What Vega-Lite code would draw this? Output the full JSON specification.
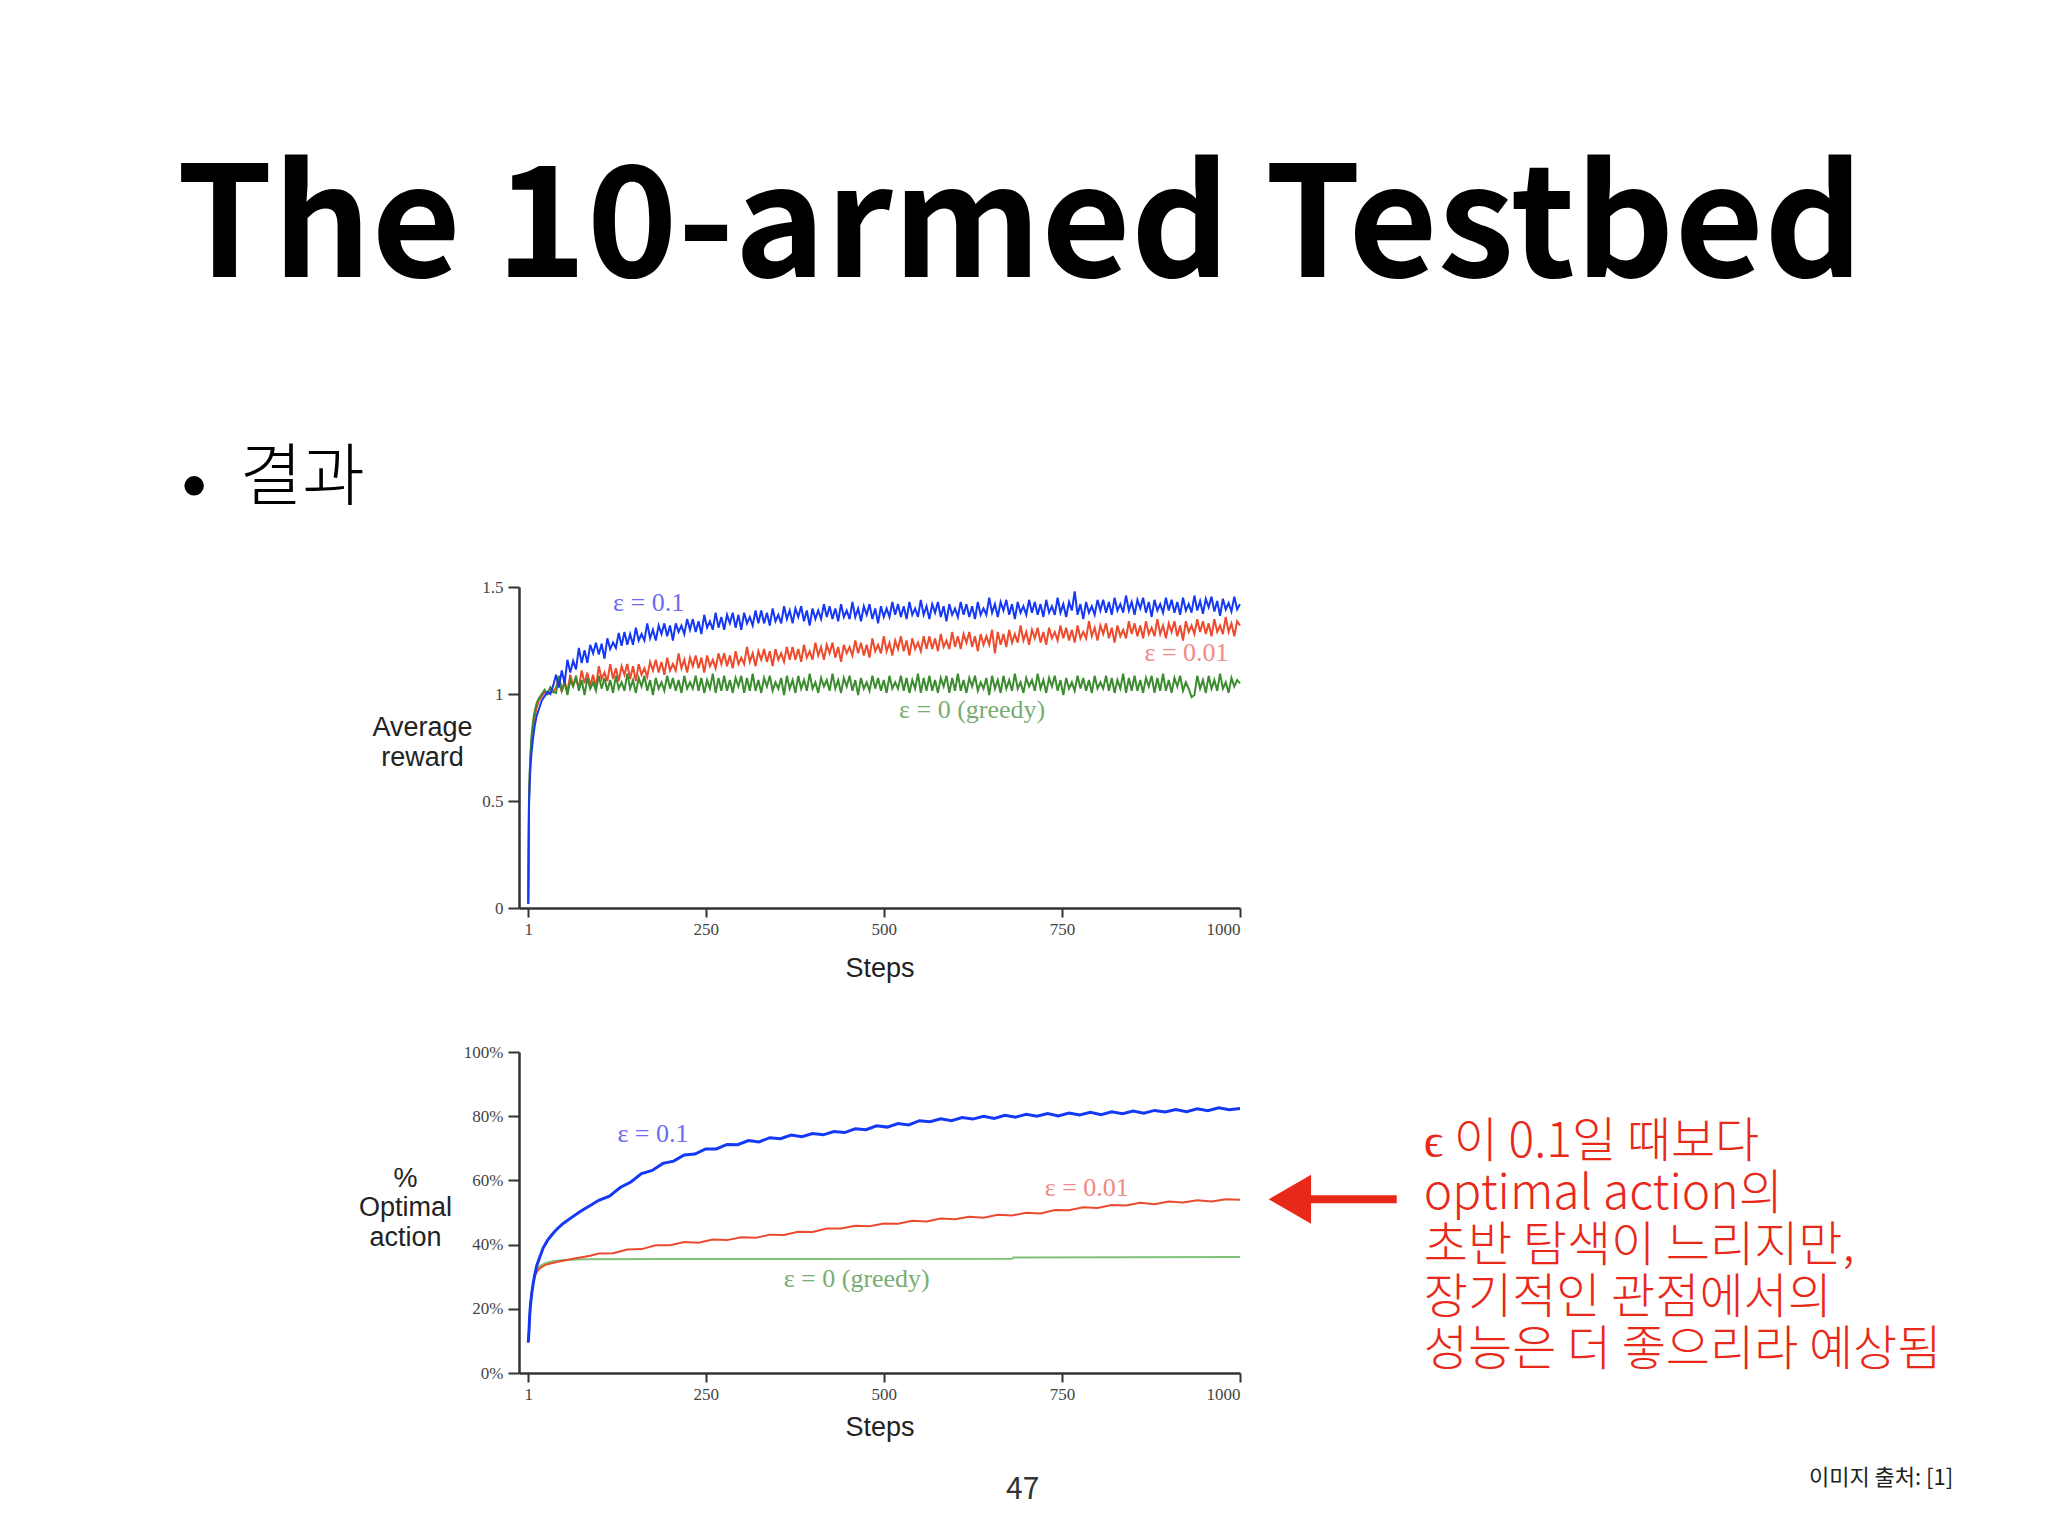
{
  "$schema": "https://vega.github.io/schema/vega-lite/v6.json",
  "autosize": "none",
  "padding": {"left": 519, "top": 587, "right": 1529, "bottom": 949},
  "background": "white",
  "bounds": "flush",
  "spacing": 144,
  "config": {
    "view": {"stroke": null},
    "axis": {
      "grid": false,
      "domainColor": "#333333",
      "domainWidth": 2.5,
      "tickColor": "#333333",
      "tickWidth": 2,
      "labelFont": "Liberation Serif",
      "labelFontSize": 17,
      "labelColor": "#444444",
      "titleFont": "Liberation Sans",
      "titleFontSize": 27,
      "titleFontWeight": "normal",
      "titleColor": "#222222"
    }
  },
  "datasets": {
    "topBlue": [
      {"step":1,"reward":0.02},{"step":2,"reward":0.47},{"step":3,"reward":0.58},{"step":4,"reward":0.65},{"step":5,"reward":0.70},{"step":6,"reward":0.74},{"step":8,"reward":0.80},{"step":10,"reward":0.85},{"step":13,"reward":0.90},{"step":16,"reward":0.93},{"step":20,"reward":0.97},{"step":24,"reward":0.99},{"step":28,"reward":1.01},{"step":32,"reward":1.00},{"step":36,"reward":1.04},
      {"step":40,"reward":1.09},{"step":44,"reward":1.03},{"step":48,"reward":1.11},{"step":52,"reward":1.05},{"step":56,"reward":1.16},{"step":60,"reward":1.10},{"step":64,"reward":1.155},{"step":68,"reward":1.115},{"step":72,"reward":1.215},{"step":76,"reward":1.145},{"step":80,"reward":1.205},{"step":84,"reward":1.145},{"step":88,"reward":1.23},{"step":92,"reward":1.19},{"step":96,"reward":1.24},{"step":100,"reward":1.185},{"step":104,"reward":1.235},{"step":108,"reward":1.165},{"step":112,"reward":1.26},{"step":116,"reward":1.21},{"step":120,"reward":1.24},{"step":124,"reward":1.215},{"step":128,"reward":1.285},{"step":132,"reward":1.225},
      {"step":136,"reward":1.29},{"step":140,"reward":1.23},{"step":144,"reward":1.28},{"step":148,"reward":1.23},{"step":152,"reward":1.31},{"step":156,"reward":1.25},{"step":160,"reward":1.28},{"step":164,"reward":1.25},{"step":168,"reward":1.33},{"step":172,"reward":1.26},{"step":176,"reward":1.30},{"step":180,"reward":1.25},{"step":184,"reward":1.32},{"step":188,"reward":1.28},{"step":192,"reward":1.33},{"step":196,"reward":1.27},{"step":200,"reward":1.32},{"step":204,"reward":1.25},{"step":208,"reward":1.33},{"step":212,"reward":1.29},{"step":216,"reward":1.32},{"step":220,"reward":1.28},{"step":224,"reward":1.35},{"step":228,"reward":1.30},
      {"step":232,"reward":1.35},{"step":236,"reward":1.29},{"step":240,"reward":1.34},{"step":244,"reward":1.28},{"step":248,"reward":1.37},{"step":252,"reward":1.31},{"step":256,"reward":1.34},{"step":260,"reward":1.30},{"step":264,"reward":1.38},{"step":268,"reward":1.31},{"step":272,"reward":1.36},{"step":276,"reward":1.30},{"step":280,"reward":1.37},{"step":284,"reward":1.33},{"step":288,"reward":1.38},{"step":292,"reward":1.31},{"step":296,"reward":1.37},{"step":300,"reward":1.30},{"step":304,"reward":1.38},{"step":308,"reward":1.33},{"step":312,"reward":1.36},{"step":316,"reward":1.32},{"step":320,"reward":1.39},{"step":324,"reward":1.33},
      {"step":328,"reward":1.39},{"step":332,"reward":1.33},{"step":336,"reward":1.38},{"step":340,"reward":1.32},{"step":344,"reward":1.40},{"step":348,"reward":1.34},{"step":352,"reward":1.37},{"step":356,"reward":1.33},{"step":360,"reward":1.41},{"step":364,"reward":1.35},{"step":368,"reward":1.39},{"step":372,"reward":1.33},{"step":376,"reward":1.40},{"step":380,"reward":1.36},{"step":384,"reward":1.41},{"step":388,"reward":1.34},{"step":392,"reward":1.39},{"step":396,"reward":1.32},{"step":400,"reward":1.40},{"step":404,"reward":1.35},{"step":408,"reward":1.39},{"step":412,"reward":1.35},{"step":416,"reward":1.42},{"step":420,"reward":1.36},
      {"step":424,"reward":1.41},{"step":428,"reward":1.35},{"step":432,"reward":1.40},{"step":436,"reward":1.34},{"step":440,"reward":1.42},{"step":444,"reward":1.36},{"step":448,"reward":1.39},{"step":452,"reward":1.35},{"step":456,"reward":1.43},{"step":460,"reward":1.36},{"step":464,"reward":1.40},{"step":468,"reward":1.34},{"step":472,"reward":1.41},{"step":476,"reward":1.37},{"step":480,"reward":1.42},{"step":484,"reward":1.35},{"step":488,"reward":1.40},{"step":492,"reward":1.33},{"step":496,"reward":1.41},{"step":500,"reward":1.36},{"step":504,"reward":1.40},{"step":508,"reward":1.36},{"step":512,"reward":1.43},{"step":516,"reward":1.37},
      {"step":520,"reward":1.42},{"step":524,"reward":1.36},{"step":528,"reward":1.41},{"step":532,"reward":1.35},{"step":536,"reward":1.43},{"step":540,"reward":1.37},{"step":544,"reward":1.40},{"step":548,"reward":1.36},{"step":552,"reward":1.44},{"step":556,"reward":1.37},{"step":560,"reward":1.41},{"step":564,"reward":1.35},{"step":568,"reward":1.42},{"step":572,"reward":1.38},{"step":576,"reward":1.43},{"step":580,"reward":1.36},{"step":584,"reward":1.41},{"step":588,"reward":1.34},{"step":592,"reward":1.42},{"step":596,"reward":1.37},{"step":600,"reward":1.40},{"step":604,"reward":1.36},{"step":608,"reward":1.43},{"step":612,"reward":1.37},
      {"step":616,"reward":1.42},{"step":620,"reward":1.36},{"step":624,"reward":1.41},{"step":628,"reward":1.35},{"step":632,"reward":1.43},{"step":636,"reward":1.37},{"step":640,"reward":1.40},{"step":644,"reward":1.37},{"step":648,"reward":1.45},{"step":652,"reward":1.38},{"step":656,"reward":1.42},{"step":660,"reward":1.36},{"step":664,"reward":1.43},{"step":668,"reward":1.39},{"step":672,"reward":1.44},{"step":676,"reward":1.37},{"step":680,"reward":1.42},{"step":684,"reward":1.35},{"step":688,"reward":1.43},{"step":692,"reward":1.38},{"step":696,"reward":1.41},{"step":700,"reward":1.37},{"step":704,"reward":1.44},{"step":708,"reward":1.38},
      {"step":712,"reward":1.43},{"step":716,"reward":1.37},{"step":720,"reward":1.42},{"step":724,"reward":1.36},{"step":728,"reward":1.44},{"step":732,"reward":1.38},{"step":736,"reward":1.41},{"step":740,"reward":1.37},{"step":744,"reward":1.45},{"step":748,"reward":1.38},{"step":752,"reward":1.42},{"step":756,"reward":1.36},{"step":760,"reward":1.43},{"step":764,"reward":1.39},{"step":768,"reward":1.48},{"step":772,"reward":1.37},{"step":776,"reward":1.42},{"step":780,"reward":1.35},{"step":784,"reward":1.43},{"step":788,"reward":1.38},{"step":792,"reward":1.41},{"step":796,"reward":1.37},{"step":800,"reward":1.44},{"step":804,"reward":1.39},
      {"step":808,"reward":1.44},{"step":812,"reward":1.38},{"step":816,"reward":1.43},{"step":820,"reward":1.37},{"step":824,"reward":1.45},{"step":828,"reward":1.39},{"step":832,"reward":1.42},{"step":836,"reward":1.38},{"step":840,"reward":1.46},{"step":844,"reward":1.39},{"step":848,"reward":1.43},{"step":852,"reward":1.37},{"step":856,"reward":1.44},{"step":860,"reward":1.40},{"step":864,"reward":1.45},{"step":868,"reward":1.38},{"step":872,"reward":1.43},{"step":876,"reward":1.36},{"step":880,"reward":1.44},{"step":884,"reward":1.39},{"step":888,"reward":1.42},{"step":892,"reward":1.38},{"step":896,"reward":1.45},{"step":900,"reward":1.39},
      {"step":904,"reward":1.44},{"step":908,"reward":1.38},{"step":912,"reward":1.43},{"step":916,"reward":1.37},{"step":920,"reward":1.45},{"step":924,"reward":1.39},{"step":928,"reward":1.42},{"step":932,"reward":1.38},{"step":936,"reward":1.46},{"step":940,"reward":1.39},{"step":944,"reward":1.435},{"step":948,"reward":1.375},{"step":952,"reward":1.445},{"step":956,"reward":1.405},{"step":960,"reward":1.455},{"step":964,"reward":1.385},{"step":968,"reward":1.435},{"step":972,"reward":1.365},{"step":976,"reward":1.445},{"step":980,"reward":1.395},{"step":984,"reward":1.425},{"step":988,"reward":1.385},{"step":992,"reward":1.455},{"step":996,"reward":1.395},{"step":1000,"reward":1.42}
    ],
    "topRed": [
      {"step":1,"reward":0.02},{"step":2,"reward":0.50},{"step":3,"reward":0.62},{"step":4,"reward":0.70},{"step":5,"reward":0.75},{"step":6,"reward":0.79},{"step":8,"reward":0.85},{"step":10,"reward":0.89},{"step":13,"reward":0.94},{"step":16,"reward":0.97},{"step":20,"reward":0.99},{"step":24,"reward":1.01},{"step":28,"reward":1.00},{"step":32,"reward":1.03},{"step":36,"reward":1.01},
      {"step":40,"reward":1.03},{"step":44,"reward":1.08},{"step":48,"reward":1.01},{"step":52,"reward":1.06},{"step":56,"reward":1.01},{"step":60,"reward":1.09},{"step":64,"reward":1.04},{"step":68,"reward":1.07},{"step":72,"reward":1.03},{"step":76,"reward":1.11},{"step":80,"reward":1.05},{"step":84,"reward":1.10},{"step":88,"reward":1.04},{"step":92,"reward":1.09},{"step":96,"reward":1.03},{"step":100,"reward":1.13},{"step":104,"reward":1.07},{"step":108,"reward":1.10},{"step":112,"reward":1.06},{"step":116,"reward":1.14},{"step":120,"reward":1.07},{"step":124,"reward":1.12},{"step":128,"reward":1.06},{"step":132,"reward":1.13},
      {"step":136,"reward":1.09},{"step":140,"reward":1.14},{"step":144,"reward":1.07},{"step":148,"reward":1.13},{"step":152,"reward":1.06},{"step":156,"reward":1.14},{"step":160,"reward":1.09},{"step":164,"reward":1.12},{"step":168,"reward":1.08},{"step":172,"reward":1.15},{"step":176,"reward":1.11},{"step":180,"reward":1.16},{"step":184,"reward":1.10},{"step":188,"reward":1.15},{"step":192,"reward":1.09},{"step":196,"reward":1.17},{"step":200,"reward":1.11},{"step":204,"reward":1.14},{"step":208,"reward":1.11},{"step":212,"reward":1.19},{"step":216,"reward":1.12},{"step":220,"reward":1.16},{"step":224,"reward":1.10},{"step":228,"reward":1.17},
      {"step":232,"reward":1.13},{"step":236,"reward":1.18},{"step":240,"reward":1.12},{"step":244,"reward":1.17},{"step":248,"reward":1.10},{"step":252,"reward":1.18},{"step":256,"reward":1.13},{"step":260,"reward":1.16},{"step":264,"reward":1.12},{"step":268,"reward":1.19},{"step":272,"reward":1.14},{"step":276,"reward":1.19},{"step":280,"reward":1.13},{"step":284,"reward":1.18},{"step":288,"reward":1.12},{"step":292,"reward":1.20},{"step":296,"reward":1.14},{"step":300,"reward":1.17},{"step":304,"reward":1.14},{"step":308,"reward":1.22},{"step":312,"reward":1.15},{"step":316,"reward":1.19},{"step":320,"reward":1.13},{"step":324,"reward":1.20},
      {"step":328,"reward":1.16},{"step":332,"reward":1.21},{"step":336,"reward":1.15},{"step":340,"reward":1.20},{"step":344,"reward":1.13},{"step":348,"reward":1.21},{"step":352,"reward":1.16},{"step":356,"reward":1.19},{"step":360,"reward":1.15},{"step":364,"reward":1.22},{"step":368,"reward":1.16},{"step":372,"reward":1.22},{"step":376,"reward":1.16},{"step":380,"reward":1.21},{"step":384,"reward":1.15},{"step":388,"reward":1.23},{"step":392,"reward":1.17},{"step":396,"reward":1.20},{"step":400,"reward":1.16},{"step":404,"reward":1.24},{"step":408,"reward":1.18},{"step":412,"reward":1.22},{"step":416,"reward":1.16},{"step":420,"reward":1.23},
      {"step":424,"reward":1.19},{"step":428,"reward":1.24},{"step":432,"reward":1.17},{"step":436,"reward":1.22},{"step":440,"reward":1.15},{"step":444,"reward":1.23},{"step":448,"reward":1.19},{"step":452,"reward":1.22},{"step":456,"reward":1.18},{"step":460,"reward":1.25},{"step":464,"reward":1.19},{"step":468,"reward":1.24},{"step":472,"reward":1.18},{"step":476,"reward":1.23},{"step":480,"reward":1.17},{"step":484,"reward":1.26},{"step":488,"reward":1.20},{"step":492,"reward":1.23},{"step":496,"reward":1.19},{"step":500,"reward":1.27},{"step":504,"reward":1.20},{"step":508,"reward":1.24},{"step":512,"reward":1.18},{"step":516,"reward":1.25},
      {"step":520,"reward":1.21},{"step":524,"reward":1.27},{"step":528,"reward":1.20},{"step":532,"reward":1.25},{"step":536,"reward":1.18},{"step":540,"reward":1.26},{"step":544,"reward":1.21},{"step":548,"reward":1.24},{"step":552,"reward":1.20},{"step":556,"reward":1.27},{"step":560,"reward":1.21},{"step":564,"reward":1.27},{"step":568,"reward":1.21},{"step":572,"reward":1.26},{"step":576,"reward":1.20},{"step":580,"reward":1.28},{"step":584,"reward":1.22},{"step":588,"reward":1.25},{"step":592,"reward":1.21},{"step":596,"reward":1.29},{"step":600,"reward":1.22},{"step":604,"reward":1.27},{"step":608,"reward":1.21},{"step":612,"reward":1.28},
      {"step":616,"reward":1.24},{"step":620,"reward":1.29},{"step":624,"reward":1.22},{"step":628,"reward":1.27},{"step":632,"reward":1.20},{"step":636,"reward":1.28},{"step":640,"reward":1.23},{"step":644,"reward":1.27},{"step":648,"reward":1.23},{"step":652,"reward":1.30},{"step":656,"reward":1.19},{"step":660,"reward":1.29},{"step":664,"reward":1.23},{"step":668,"reward":1.28},{"step":672,"reward":1.22},{"step":676,"reward":1.30},{"step":680,"reward":1.24},{"step":684,"reward":1.28},{"step":688,"reward":1.24},{"step":692,"reward":1.32},{"step":696,"reward":1.25},{"step":700,"reward":1.29},{"step":704,"reward":1.23},{"step":708,"reward":1.30},
      {"step":712,"reward":1.26},{"step":716,"reward":1.31},{"step":720,"reward":1.24},{"step":724,"reward":1.29},{"step":728,"reward":1.23},{"step":732,"reward":1.31},{"step":736,"reward":1.26},{"step":740,"reward":1.29},{"step":744,"reward":1.25},{"step":748,"reward":1.32},{"step":752,"reward":1.26},{"step":756,"reward":1.31},{"step":760,"reward":1.25},{"step":764,"reward":1.30},{"step":768,"reward":1.24},{"step":772,"reward":1.32},{"step":776,"reward":1.26},{"step":780,"reward":1.29},{"step":784,"reward":1.26},{"step":788,"reward":1.34},{"step":792,"reward":1.27},{"step":796,"reward":1.31},{"step":800,"reward":1.25},{"step":804,"reward":1.32},
      {"step":808,"reward":1.28},{"step":812,"reward":1.33},{"step":816,"reward":1.26},{"step":820,"reward":1.31},{"step":824,"reward":1.24},{"step":828,"reward":1.32},{"step":832,"reward":1.27},{"step":836,"reward":1.30},{"step":840,"reward":1.26},{"step":844,"reward":1.34},{"step":848,"reward":1.28},{"step":852,"reward":1.33},{"step":856,"reward":1.27},{"step":860,"reward":1.32},{"step":864,"reward":1.26},{"step":868,"reward":1.34},{"step":872,"reward":1.28},{"step":876,"reward":1.31},{"step":880,"reward":1.27},{"step":884,"reward":1.35},{"step":888,"reward":1.28},{"step":892,"reward":1.32},{"step":896,"reward":1.26},{"step":900,"reward":1.33},
      {"step":904,"reward":1.29},{"step":908,"reward":1.34},{"step":912,"reward":1.27},{"step":916,"reward":1.32},{"step":920,"reward":1.25},{"step":924,"reward":1.34},{"step":928,"reward":1.29},{"step":932,"reward":1.32},{"step":936,"reward":1.28},{"step":940,"reward":1.35},{"step":944,"reward":1.29},{"step":948,"reward":1.34},{"step":952,"reward":1.28},{"step":956,"reward":1.33},{"step":960,"reward":1.27},{"step":964,"reward":1.35},{"step":968,"reward":1.29},{"step":972,"reward":1.32},{"step":976,"reward":1.28},{"step":980,"reward":1.36},{"step":984,"reward":1.29},{"step":988,"reward":1.33},{"step":992,"reward":1.27},{"step":996,"reward":1.34},{"step":1000,"reward":1.32}
    ],
    "topGreen": [
      {"step":1,"reward":0.02},{"step":2,"reward":0.50},{"step":3,"reward":0.63},{"step":4,"reward":0.72},{"step":5,"reward":0.78},{"step":6,"reward":0.82},{"step":8,"reward":0.88},{"step":10,"reward":0.92},{"step":13,"reward":0.96},{"step":16,"reward":0.98},{"step":20,"reward":1.00},{"step":24,"reward":1.02},{"step":28,"reward":1.00},{"step":32,"reward":1.03},{"step":36,"reward":1.01},
      {"step":40,"reward":1.005},{"step":44,"reward":1.085},{"step":48,"reward":1.015},{"step":52,"reward":1.055},{"step":56,"reward":0.995},{"step":60,"reward":1.065},{"step":64,"reward":1.035},{"step":68,"reward":1.085},{"step":72,"reward":1.015},{"step":76,"reward":1.065},{"step":80,"reward":0.995},{"step":84,"reward":1.075},{"step":88,"reward":1.025},{"step":92,"reward":1.055},{"step":96,"reward":1.015},{"step":100,"reward":1.085},{"step":104,"reward":1.025},{"step":108,"reward":1.075},{"step":112,"reward":1.015},{"step":116,"reward":1.065},{"step":120,"reward":1.005},{"step":124,"reward":1.085},{"step":128,"reward":1.025},{"step":132,"reward":1.055},
      {"step":136,"reward":1.015},{"step":140,"reward":1.095},{"step":144,"reward":1.025},{"step":148,"reward":1.065},{"step":152,"reward":1.005},{"step":156,"reward":1.075},{"step":160,"reward":1.035},{"step":164,"reward":1.085},{"step":168,"reward":1.015},{"step":172,"reward":1.065},{"step":176,"reward":0.995},{"step":180,"reward":1.075},{"step":184,"reward":1.025},{"step":188,"reward":1.055},{"step":192,"reward":1.015},{"step":196,"reward":1.085},{"step":200,"reward":1.025},{"step":204,"reward":1.075},{"step":208,"reward":1.015},{"step":212,"reward":1.065},{"step":216,"reward":1.005},{"step":220,"reward":1.085},{"step":224,"reward":1.025},{"step":228,"reward":1.055},
      {"step":232,"reward":1.025},{"step":236,"reward":1.085},{"step":240,"reward":1.015},{"step":244,"reward":1.075},{"step":248,"reward":1.005},{"step":252,"reward":1.065},{"step":256,"reward":1.025},{"step":260,"reward":1.095},{"step":264,"reward":1.005},{"step":268,"reward":1.075},{"step":272,"reward":1.015},{"step":276,"reward":1.085},{"step":280,"reward":1.015},{"step":284,"reward":1.065},{"step":288,"reward":1.005},{"step":292,"reward":1.075},{"step":296,"reward":1.035},{"step":300,"reward":1.085},{"step":304,"reward":1.005},{"step":308,"reward":1.075},{"step":312,"reward":1.015},{"step":316,"reward":1.095},{"step":320,"reward":1.015},{"step":324,"reward":1.065},
      {"step":328,"reward":1.005},{"step":332,"reward":1.075},{"step":336,"reward":1.035},{"step":340,"reward":1.085},{"step":344,"reward":1.015},{"step":348,"reward":1.055},{"step":352,"reward":1.025},{"step":356,"reward":1.075},{"step":360,"reward":0.995},{"step":364,"reward":1.085},{"step":368,"reward":1.025},{"step":372,"reward":1.065},{"step":376,"reward":1.005},{"step":380,"reward":1.085},{"step":384,"reward":1.025},{"step":388,"reward":1.065},{"step":392,"reward":1.015},{"step":396,"reward":1.095},{"step":400,"reward":1.025},{"step":404,"reward":1.055},{"step":408,"reward":1.005},{"step":412,"reward":1.075},{"step":416,"reward":1.035},{"step":420,"reward":1.065},
      {"step":424,"reward":1.015},{"step":428,"reward":1.095},{"step":432,"reward":1.025},{"step":436,"reward":1.065},{"step":440,"reward":1.005},{"step":444,"reward":1.075},{"step":448,"reward":1.035},{"step":452,"reward":1.085},{"step":456,"reward":1.015},{"step":460,"reward":1.065},{"step":464,"reward":0.995},{"step":468,"reward":1.075},{"step":472,"reward":1.025},{"step":476,"reward":1.055},{"step":480,"reward":1.015},{"step":484,"reward":1.085},{"step":488,"reward":1.025},{"step":492,"reward":1.075},{"step":496,"reward":1.015},{"step":500,"reward":1.065},{"step":504,"reward":1.005},{"step":508,"reward":1.085},{"step":512,"reward":1.025},{"step":516,"reward":1.055},
      {"step":520,"reward":1.025},{"step":524,"reward":1.085},{"step":528,"reward":1.015},{"step":532,"reward":1.075},{"step":536,"reward":1.005},{"step":540,"reward":1.065},{"step":544,"reward":1.025},{"step":548,"reward":1.095},{"step":552,"reward":1.005},{"step":556,"reward":1.075},{"step":560,"reward":1.015},{"step":564,"reward":1.085},{"step":568,"reward":1.015},{"step":572,"reward":1.065},{"step":576,"reward":1.005},{"step":580,"reward":1.075},{"step":584,"reward":1.035},{"step":588,"reward":1.085},{"step":592,"reward":1.005},{"step":596,"reward":1.075},{"step":600,"reward":1.015},{"step":604,"reward":1.095},{"step":608,"reward":1.015},{"step":612,"reward":1.065},
      {"step":616,"reward":1.005},{"step":620,"reward":1.075},{"step":624,"reward":1.035},{"step":628,"reward":1.085},{"step":632,"reward":1.015},{"step":636,"reward":1.055},{"step":640,"reward":1.025},{"step":644,"reward":1.075},{"step":648,"reward":0.995},{"step":652,"reward":1.085},{"step":656,"reward":1.025},{"step":660,"reward":1.065},{"step":664,"reward":1.005},{"step":668,"reward":1.085},{"step":672,"reward":1.025},{"step":676,"reward":1.065},{"step":680,"reward":1.015},{"step":684,"reward":1.095},{"step":688,"reward":1.025},{"step":692,"reward":1.055},{"step":696,"reward":1.005},{"step":700,"reward":1.075},{"step":704,"reward":1.035},{"step":708,"reward":1.065},
      {"step":712,"reward":1.015},{"step":716,"reward":1.095},{"step":720,"reward":1.025},{"step":724,"reward":1.065},{"step":728,"reward":1.005},{"step":732,"reward":1.075},{"step":736,"reward":1.035},{"step":740,"reward":1.085},{"step":744,"reward":1.015},{"step":748,"reward":1.065},{"step":752,"reward":0.995},{"step":756,"reward":1.075},{"step":760,"reward":1.025},{"step":764,"reward":1.055},{"step":768,"reward":1.015},{"step":772,"reward":1.085},{"step":776,"reward":1.025},{"step":780,"reward":1.075},{"step":784,"reward":1.015},{"step":788,"reward":1.065},{"step":792,"reward":1.005},{"step":796,"reward":1.085},{"step":800,"reward":1.025},{"step":804,"reward":1.055},
      {"step":808,"reward":1.025},{"step":812,"reward":1.085},{"step":816,"reward":1.015},{"step":820,"reward":1.075},{"step":824,"reward":1.005},{"step":828,"reward":1.065},{"step":832,"reward":1.025},{"step":836,"reward":1.095},{"step":840,"reward":1.005},{"step":844,"reward":1.075},{"step":848,"reward":1.015},{"step":852,"reward":1.085},{"step":856,"reward":1.015},{"step":860,"reward":1.065},{"step":864,"reward":1.005},{"step":868,"reward":1.075},{"step":872,"reward":1.035},{"step":876,"reward":1.085},{"step":880,"reward":1.005},{"step":884,"reward":1.075},{"step":888,"reward":1.015},{"step":892,"reward":1.095},{"step":896,"reward":1.015},{"step":900,"reward":1.065},
      {"step":904,"reward":1.005},{"step":908,"reward":1.075},{"step":912,"reward":1.035},{"step":916,"reward":1.085},{"step":920,"reward":1.015},{"step":924,"reward":1.055},{"step":928,"reward":1.025},{"step":932,"reward":0.985},{"step":936,"reward":0.995},{"step":940,"reward":1.085},{"step":944,"reward":1.025},{"step":948,"reward":1.065},{"step":952,"reward":1.005},{"step":956,"reward":1.085},{"step":960,"reward":1.025},{"step":964,"reward":1.065},{"step":968,"reward":1.015},{"step":972,"reward":1.095},{"step":976,"reward":1.025},{"step":980,"reward":1.055},{"step":984,"reward":1.005},{"step":988,"reward":1.075},{"step":992,"reward":1.035},{"step":996,"reward":1.065},{"step":1000,"reward":1.05}
    ],
    "topLabels": [
      {"label":"ε = 0.1","step":170,"reward":1.427,"series":"0.1"},
      {"label":"ε = 0.01","step":925,"reward":1.193,"series":"0.01"},
      {"label":"ε = 0 (greedy)","step":624,"reward":0.927,"series":"0"}
    ],
    "botBlue": [
      {"step":1,"pct":9.5},{"step":2,"pct":13},{"step":3,"pct":18},{"step":4,"pct":21},{"step":6,"pct":25},{"step":8,"pct":28},{"step":10,"pct":30.5},{"step":13,"pct":33.5},{"step":17,"pct":36},{"step":22,"pct":39},{"step":28,"pct":41.3},{"step":35,"pct":43.3},{"step":41,"pct":44.8},{"step":50,"pct":46.6},{"step":64,"pct":48.8},{"step":75,"pct":50.5},{"step":88,"pct":52.2},
      {"step":100,"pct":53.8},{"step":115,"pct":55.1},{"step":130,"pct":57.8},{"step":145,"pct":59.5},{"step":160,"pct":62.1},{"step":175,"pct":63.1},{"step":190,"pct":65.3},{"step":205,"pct":66.0},{"step":220,"pct":67.9},{"step":235,"pct":68.2},{"step":250,"pct":69.8},{"step":265,"pct":69.8},{"step":280,"pct":71.2},{"step":295,"pct":71.1},{"step":310,"pct":72.4},{"step":325,"pct":72.0},{"step":340,"pct":73.3},{"step":355,"pct":73.0},{"step":370,"pct":74.1},{"step":385,"pct":73.6},{"step":400,"pct":74.6},{"step":415,"pct":74.2},{"step":430,"pct":75.2},{"step":445,"pct":74.9},{"step":460,"pct":76.1},{"step":475,"pct":75.8},{"step":490,"pct":77.0},{"step":505,"pct":76.6},{"step":520,"pct":77.7},{"step":535,"pct":77.3},{"step":550,"pct":78.6},{"step":565,"pct":78.3},{"step":580,"pct":79.2},{"step":595,"pct":78.6},{"step":610,"pct":79.6},{"step":625,"pct":79.1},{"step":640,"pct":80.0},{"step":655,"pct":79.3},{"step":670,"pct":80.3},{"step":685,"pct":79.7},{"step":700,"pct":80.6},{"step":715,"pct":80.0},{"step":730,"pct":80.8},{"step":745,"pct":80.1},{"step":760,"pct":81.0},{"step":775,"pct":80.4},{"step":790,"pct":81.2},{"step":805,"pct":80.5},{"step":820,"pct":81.4},{"step":835,"pct":80.8},{"step":850,"pct":81.6},{"step":865,"pct":80.9},{"step":880,"pct":81.8},{"step":895,"pct":81.3},{"step":910,"pct":82.1},{"step":925,"pct":81.4},{"step":940,"pct":82.3},{"step":955,"pct":81.7},{"step":970,"pct":82.6},{"step":985,"pct":82.0},{"step":1000,"pct":82.4}
    ],
    "botRed": [
      {"step":1,"pct":9.5},{"step":2,"pct":13},{"step":3,"pct":17.5},{"step":4,"pct":21},{"step":6,"pct":25},{"step":8,"pct":28},{"step":10,"pct":30},{"step":13,"pct":31.5},{"step":17,"pct":32.6},{"step":25,"pct":33.7},{"step":41,"pct":34.6},{"step":64,"pct":35.6},{"step":88,"pct":36.5},
      {"step":100,"pct":37.2},{"step":120,"pct":37.3},{"step":140,"pct":38.5},{"step":160,"pct":38.6},{"step":180,"pct":39.8},{"step":200,"pct":39.8},{"step":220,"pct":40.8},{"step":240,"pct":40.6},{"step":260,"pct":41.6},{"step":280,"pct":41.4},{"step":300,"pct":42.3},{"step":320,"pct":42.1},{"step":340,"pct":43.1},{"step":360,"pct":43.0},{"step":380,"pct":44.0},{"step":400,"pct":43.9},{"step":420,"pct":45.0},{"step":440,"pct":45.0},{"step":460,"pct":45.9},{"step":480,"pct":45.7},{"step":500,"pct":46.6},{"step":520,"pct":46.5},{"step":540,"pct":47.4},{"step":560,"pct":47.2},{"step":580,"pct":48.1},{"step":600,"pct":47.9},{"step":620,"pct":48.7},{"step":640,"pct":48.4},{"step":660,"pct":49.3},{"step":680,"pct":49.1},{"step":700,"pct":49.9},{"step":720,"pct":49.7},{"step":740,"pct":50.8},{"step":760,"pct":50.7},{"step":780,"pct":51.6},{"step":800,"pct":51.4},{"step":820,"pct":52.3},{"step":840,"pct":52.2},{"step":860,"pct":53.0},{"step":880,"pct":52.6},{"step":900,"pct":53.4},{"step":920,"pct":53.1},{"step":940,"pct":53.8},{"step":960,"pct":53.4},{"step":980,"pct":54.1},{"step":1000,"pct":54.0}
    ],
    "botGreen": [
      {"step":1,"pct":9.5},{"step":2,"pct":13},{"step":3,"pct":17.5},{"step":4,"pct":21},{"step":6,"pct":25},{"step":8,"pct":28},{"step":10,"pct":30.5},{"step":13,"pct":32.3},{"step":17,"pct":33.3},{"step":25,"pct":34.2},{"step":35,"pct":34.8},{"step":50,"pct":35.2},{"step":80,"pct":35.4},{"step":200,"pct":35.5},{"step":680,"pct":35.6},{"step":682,"pct":36.0},{"step":1000,"pct":36.1}
    ],
    "botLabels": [
      {"label":"ε = 0.1","step":176,"pct":74.4,"series":"0.1"},
      {"label":"ε = 0.01","step":785,"pct":57.5,"series":"0.01"},
      {"label":"ε = 0 (greedy)","step":462,"pct":29.2,"series":"0"}
    ]
  },
  "vconcat": [
    {
      "width": 721,
      "height": 321,
      "layer": [
        {
          "data": {"name": "topRed"},
          "mark": {"type": "line", "color": "#ee4a2c", "strokeWidth": 2},
          "encoding": {
            "x": {"field": "step", "type": "quantitative",
              "scale": {"domain": [-12, 1000], "nice": false, "zero": false},
              "axis": {"values": [1, 250, 500, 750, 1000], "format": "d", "title": "Steps", "tickSize": 9, "labelPadding": 4, "titleY": 60, "titleBaseline": "middle"}},
            "y": {"field": "reward", "type": "quantitative",
              "scale": {"domain": [0, 1.5], "nice": false, "zero": false},
              "axis": {"values": [0, 0.5, 1, 1.5], "format": ".1~f", "title": ["Average", "reward"], "titleAngle": 0, "titleAlign": "center", "titleBaseline": "middle", "titleX": -97, "titleY": 140, "titleLineHeight": 30, "tickSize": 11, "labelPadding": 5}}
          }
        },
        {
          "data": {"name": "topGreen"},
          "mark": {"type": "line", "color": "#3a8c2e", "strokeWidth": 2},
          "encoding": {
            "x": {"field": "step", "type": "quantitative"},
            "y": {"field": "reward", "type": "quantitative"}
          }
        },
        {
          "data": {"name": "topBlue"},
          "mark": {"type": "line", "color": "#1438f5", "strokeWidth": 2},
          "encoding": {
            "x": {"field": "step", "type": "quantitative"},
            "y": {"field": "reward", "type": "quantitative"}
          }
        },
        {
          "data": {"name": "topLabels"},
          "mark": {"type": "text", "font": "Liberation Serif", "fontSize": 26, "align": "center", "baseline": "middle"},
          "encoding": {
            "x": {"field": "step", "type": "quantitative"},
            "y": {"field": "reward", "type": "quantitative"},
            "text": {"field": "label"},
            "color": {"field": "series", "type": "nominal", "legend": null,
              "scale": {"domain": ["0.1", "0.01", "0"], "range": ["#6b6bf2", "#f08a86", "#78ad72"]}}
          }
        },
        {
          "data": {"values": [{"label": "The 10-armed Testbed"}]},
          "mark": {"type": "text", "font": "Noto Sans CJK KR", "fontSize": 154, "fontWeight": "bold", "align": "center", "baseline": "alphabetic", "color": "#000000"},
          "encoding": {
            "x": {"datum": 691, "type": "quantitative"},
            "y": {"datum": 2.95, "type": "quantitative"},
            "text": {"field": "label"}
          }
        },
        {
          "data": {"values": [{"item": "bullet"}]},
          "mark": {"type": "point", "shape": "circle", "size": 380, "filled": true, "color": "#000000", "opacity": 1},
          "encoding": {
            "x": {"datum": -468, "type": "quantitative"},
            "y": {"datum": 1.973, "type": "quantitative"}
          }
        },
        {
          "data": {"values": [{"label": "결과"}]},
          "mark": {"type": "text", "font": "Noto Sans CJK KR", "fontSize": 68, "fontWeight": 300, "align": "left", "baseline": "middle", "color": "#000000"},
          "encoding": {
            "x": {"datum": -404, "type": "quantitative"},
            "y": {"datum": 2.0, "type": "quantitative"},
            "text": {"field": "label"}
          }
        }
      ]
    },
    {
      "width": 721,
      "height": 321,
      "layer": [
        {
          "data": {"name": "botGreen"},
          "mark": {"type": "line", "color": "#7fc277", "strokeWidth": 2},
          "encoding": {
            "x": {"field": "step", "type": "quantitative",
              "scale": {"domain": [-12, 1000], "nice": false, "zero": false},
              "axis": {"values": [1, 250, 500, 750, 1000], "format": "d", "title": "Steps", "tickSize": 9, "labelPadding": 4, "titleY": 54, "titleBaseline": "middle"}},
            "y": {"field": "pct", "type": "quantitative",
              "scale": {"domain": [0, 100], "nice": false, "zero": false},
              "axis": {"values": [0, 20, 40, 60, 80, 100], "labelExpr": "datum.value + '%'", "title": ["%", "Optimal", "action"], "titleAngle": 0, "titleAlign": "center", "titleBaseline": "middle", "titleX": -114, "titleY": 126, "titleLineHeight": 29.5, "tickSize": 11, "labelPadding": 5}}
          }
        },
        {
          "data": {"name": "botRed"},
          "mark": {"type": "line", "color": "#ec4a30", "strokeWidth": 2},
          "encoding": {
            "x": {"field": "step", "type": "quantitative"},
            "y": {"field": "pct", "type": "quantitative"}
          }
        },
        {
          "data": {"name": "botBlue"},
          "mark": {"type": "line", "color": "#1438f5", "strokeWidth": 3},
          "encoding": {
            "x": {"field": "step", "type": "quantitative"},
            "y": {"field": "pct", "type": "quantitative"}
          }
        },
        {
          "data": {"name": "botLabels"},
          "mark": {"type": "text", "font": "Liberation Serif", "fontSize": 26, "align": "center", "baseline": "middle"},
          "encoding": {
            "x": {"field": "step", "type": "quantitative"},
            "y": {"field": "pct", "type": "quantitative"},
            "text": {"field": "label"},
            "color": {"field": "series", "type": "nominal", "legend": null,
              "scale": {"domain": ["0.1", "0.01", "0"], "range": ["#6b6bf2", "#f08a86", "#78ad72"]}}
          }
        },
        {
          "data": {"values": [{"part": "shaft"}]},
          "mark": {"type": "rule", "color": "#e8291a", "strokeWidth": 8},
          "encoding": {
            "x": {"datum": 1090, "type": "quantitative"},
            "x2": {"datum": 1220},
            "y": {"datum": 54.1, "type": "quantitative"}
          }
        },
        {
          "data": {"values": [{"part": "head"}]},
          "mark": {"type": "point", "shape": "triangle-left", "size": 2400, "filled": true, "color": "#e8291a", "opacity": 1},
          "encoding": {
            "x": {"datum": 1070, "type": "quantitative"},
            "y": {"datum": 54.1, "type": "quantitative"}
          }
        },
        {
          "data": {"values": [{"note": "annotation"}]},
          "mark": {"type": "text", "text": ["ϵ 이 0.1일 때보다", "optimal action의", "초반 탐색이 느리지만,", "장기적인 관점에서의", "성능은 더 좋으리라 예상됨"], "font": "Noto Sans CJK KR", "fontSize": 48, "fontWeight": 300, "lineHeight": 52, "align": "left", "baseline": "alphabetic", "color": "#e8291a"},
          "encoding": {
            "x": {"datum": 1258, "type": "quantitative"},
            "y": {"datum": 67.2, "type": "quantitative"}
          }
        },
        {
          "data": {"values": [{"label": "47"}]},
          "mark": {"type": "text", "font": "Noto Sans CJK KR", "fontSize": 30, "align": "center", "baseline": "middle", "color": "#333333"},
          "encoding": {
            "x": {"datum": 695, "type": "quantitative"},
            "y": {"datum": -36.5, "type": "quantitative"},
            "text": {"field": "label"}
          }
        },
        {
          "data": {"values": [{"label": "이미지 출처: [1]"}]},
          "mark": {"type": "text", "font": "Noto Sans CJK KR", "fontSize": 22, "align": "right", "baseline": "middle", "color": "#222222"},
          "encoding": {
            "x": {"datum": 2001, "type": "quantitative"},
            "y": {"datum": -32.8, "type": "quantitative"},
            "text": {"field": "label"}
          }
        }
      ]
    }
  ]
}
